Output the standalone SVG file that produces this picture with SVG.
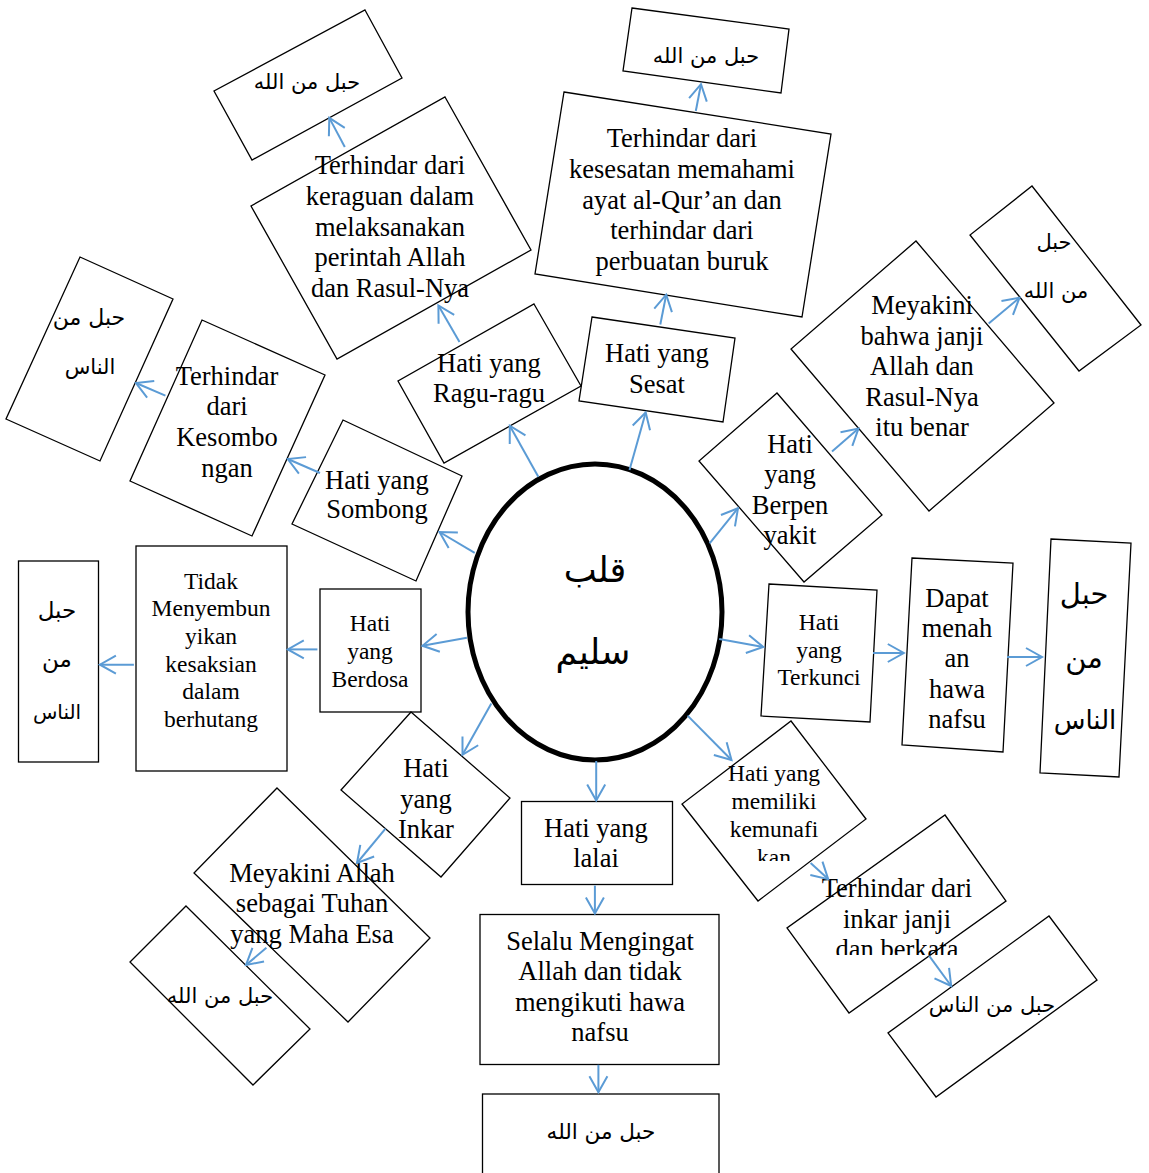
<svg xmlns="http://www.w3.org/2000/svg" width="1149" height="1173" viewBox="0 0 1149 1173">
<style>
.box{fill:none;stroke:#000;stroke-width:1.3}
.t{font-family:"Liberation Serif","Times New Roman",serif;font-size:26.5px;fill:#000;text-anchor:middle}
.s{font-size:23.5px}
.ar{font-family:"DejaVu Sans","Noto Sans",sans-serif;fill:#000;text-anchor:middle;direction:rtl;unicode-bidi:embed}
.c line{stroke:#5B9BD5;stroke-width:2;marker-end:url(#ah)}
</style>
<defs>
<marker id="ah" markerUnits="userSpaceOnUse" markerWidth="18" markerHeight="20" viewBox="-17 -10 18 20" refX="0" refY="0" orient="auto" overflow="visible">
<path d="M-16,-9 L0,0 L-16,9" fill="none" stroke="#5B9BD5" stroke-width="2"/>
</marker>
<clipPath id="clipMun"><rect x="600" y="700" width="300" height="161"/></clipPath>
<clipPath id="clipInk"><rect x="700" y="800" width="400" height="155"/></clipPath>
</defs>
<rect width="1149" height="1173" fill="#fff"/>

<g id="center">
<ellipse cx="595" cy="612" rx="127" ry="148" fill="#fff" stroke="#000" stroke-width="5"/>
<text class="ar" x="595" y="582" font-size="35">قلب</text>
<text class="ar" x="593" y="664" font-size="35">سليم</text>
</g>

<g id="n-ragu">
<polygon class="box" points="534,304 581,386 444,463 398,381"/>
<text class="t" x="489" y="372">Hati yang</text>
<text class="t" x="489" y="402">Ragu-ragu</text>
</g>
<g id="n-keraguan">
<polygon class="box" points="445,97 531,250 337,359 251,206"/>
<text class="t" x="390" y="174">Terhindar dari</text>
<text class="t" x="390" y="205">keraguan dalam</text>
<text class="t" x="390" y="236">melaksanakan</text>
<text class="t" x="390" y="266">perintah Allah</text>
<text class="t" x="390" y="297">dan Rasul-Nya</text>
</g>
<g id="n-hablullah-tl">
<polygon class="box" points="365,10 402,78 252,160 214,91"/>
<text class="ar" x="307" y="89" font-size="21">حبل من الله</text>
</g>

<g id="n-sesat">
<polygon class="box" points="592,317 735,338 723,422 579,401"/>
<text class="t" x="657" y="362">Hati yang</text>
<text class="t" x="657" y="393">Sesat</text>
</g>
<g id="n-kesesatan">
<polygon class="box" points="564,92 831,134 802,317 535,274"/>
<text class="t" x="682" y="147">Terhindar dari</text>
<text class="t" x="682" y="178">kesesatan memahami</text>
<text class="t" x="682" y="209">ayat al-Qur’an dan</text>
<text class="t" x="682" y="239">terhindar dari</text>
<text class="t" x="682" y="270">perbuatan buruk</text>
</g>
<g id="n-hablullah-top">
<polygon class="box" points="632,8 789,29 781,93 623,71"/>
<text class="ar" x="706" y="63" font-size="21">حبل من الله</text>
</g>

<g id="n-berpenyakit">
<polygon class="box" points="777,393 882,515 804,582 699,461"/>
<text class="t" x="790" y="453">Hati</text>
<text class="t" x="790" y="483">yang</text>
<text class="t" x="790" y="514">Berpen</text>
<text class="t" x="790" y="544">yakit</text>
</g>
<g id="n-meyakini-janji">
<polygon class="box" points="916,241 1054,403 929,511 791,349"/>
<text class="t" x="922" y="314">Meyakini</text>
<text class="t" x="922" y="345">bahwa janji</text>
<text class="t" x="922" y="375">Allah dan</text>
<text class="t" x="922" y="406">Rasul-Nya</text>
<text class="t" x="922" y="436">itu benar</text>
</g>
<g id="n-hablullah-r">
<polygon class="box" points="1032,186 1141,325 1079,371 970,235"/>
<text class="ar" x="1054" y="249" font-size="21">حبل</text>
<text class="ar" x="1056" y="298" font-size="21">من الله</text>
</g>

<g id="n-sombong">
<polygon class="box" points="343,420 462,476 416,581 292,524"/>
<text class="t" x="377" y="489">Hati yang</text>
<text class="t" x="377" y="518">Sombong</text>
</g>
<g id="n-kesombongan">
<polygon class="box" points="202,320 325,375 252,536 130,481"/>
<text class="t" x="227" y="385">Terhindar</text>
<text class="t" x="227" y="415">dari</text>
<text class="t" x="227" y="446">Kesombo</text>
<text class="t" x="227" y="477">ngan</text>
</g>
<g id="n-hablunnas-l1">
<polygon class="box" points="80,257 173,299 100,461 6,419"/>
<text class="ar" x="89" y="325" font-size="22">حبل من</text>
<text class="ar" x="90" y="374" font-size="21">الناس</text>
</g>

<g id="n-berdosa">
<rect class="box" x="320" y="589" width="101" height="123"/>
<text class="t s" x="370" y="631">Hati</text>
<text class="t s" x="370" y="659">yang</text>
<text class="t s" x="370" y="687">Berdosa</text>
</g>
<g id="n-tidak">
<rect class="box" x="136" y="546" width="151" height="225"/>
<text class="t s" x="211" y="589">Tidak</text>
<text class="t s" x="211" y="616">Menyembun</text>
<text class="t s" x="211" y="644">yikan</text>
<text class="t s" x="211" y="672">kesaksian</text>
<text class="t s" x="211" y="699">dalam</text>
<text class="t s" x="211" y="727">berhutang</text>
</g>
<g id="n-hablunnas-l2">
<rect class="box" x="18.5" y="561" width="80" height="201"/>
<text class="ar" x="57" y="618" font-size="23">حبل</text>
<text class="ar" x="57" y="667" font-size="23">من</text>
<text class="ar" x="57" y="719" font-size="20">الناس</text>
</g>

<g id="n-inkar">
<polygon class="box" points="411,712 510,798 441,877 341,790"/>
<text class="t" x="426" y="777">Hati</text>
<text class="t" x="426" y="808">yang</text>
<text class="t" x="426" y="838">Inkar</text>
</g>
<g id="n-meyakini-allah">
<polygon class="box" points="277,788 430,938 348,1022 194,873"/>
<text class="t" x="312" y="882">Meyakini Allah</text>
<text class="t" x="312" y="912">sebagai Tuhan</text>
<text class="t" x="312" y="943">yang Maha Esa</text>
</g>
<g id="n-hablullah-bl">
<polygon class="box" points="186,906 310,1029 253,1085 130,962"/>
<text class="ar" x="220" y="1003" font-size="21">حبل من الله</text>
</g>

<g id="n-terkunci">
<polygon class="box" points="769,584 877,590 870,722 761,716"/>
<text class="t s" x="819" y="630">Hati</text>
<text class="t s" x="819" y="658">yang</text>
<text class="t s" x="819" y="685">Terkunci</text>
</g>
<g id="n-dapat">
<polygon class="box" points="912,558 1013,563 1003,752 902,745"/>
<text class="t" x="957" y="607">Dapat</text>
<text class="t" x="957" y="637">menah</text>
<text class="t" x="957" y="667">an</text>
<text class="t" x="957" y="698">hawa</text>
<text class="t" x="957" y="728">nafsu</text>
</g>
<g id="n-hablunnas-r">
<polygon class="box" points="1051,539 1131,543 1119,777 1040,773"/>
<text class="ar" x="1084" y="604" font-size="29">حبل</text>
<text class="ar" x="1084" y="668" font-size="29">من</text>
<text class="ar" x="1085" y="729" font-size="26">الناس</text>
</g>

<g id="n-lalai">
<rect class="box" x="521.5" y="801.5" width="151" height="83"/>
<text class="t" x="596" y="837">Hati yang</text>
<text class="t" x="596" y="867">lalai</text>
</g>
<g id="n-selalu">
<rect class="box" x="480" y="914.5" width="239" height="150"/>
<text class="t" x="600" y="950">Selalu Mengingat</text>
<text class="t" x="600" y="980">Allah dan tidak</text>
<text class="t" x="600" y="1011">mengikuti hawa</text>
<text class="t" x="600" y="1041">nafsu</text>
</g>
<g id="n-hablullah-b">
<rect class="box" x="482.5" y="1094" width="236.5" height="90"/>
<text class="ar" x="601" y="1139" font-size="21.5">حبل من الله</text>
</g>

<g id="n-munafik">
<polygon class="box" points="791,721 866,819 758,901 682,804"/>
<g clip-path="url(#clipMun)">
<text class="t s" x="774" y="781">Hati yang</text>
<text class="t s" x="774" y="809">memiliki</text>
<text class="t s" x="774" y="837">kemunafi</text>
<text class="t s" x="774" y="865">kan</text>
</g>
</g>
<g id="n-inkar-janji">
<polygon class="box" points="945,815 1006,901 849,1013 787,928"/>
<g clip-path="url(#clipInk)">
<text class="t" x="897" y="897">Terhindar dari</text>
<text class="t" x="897" y="928">inkar janji</text>
<text class="t" x="897" y="958">dan berkata</text>
</g>
</g>
<g id="n-hablunnas-br">
<polygon class="box" points="1049,916 1097,980 936,1097 888,1033"/>
<text class="ar" x="992" y="1012" font-size="21">حبل من الناس</text>
</g>

<g id="connectors" class="c">
<line x1="538.3" y1="476.8" x2="509.8" y2="425.7"/>
<line x1="459.5" y1="342" x2="438.4" y2="305.4"/>
<line x1="344.8" y1="147" x2="329.3" y2="117.9"/>
<line x1="629.5" y1="470" x2="645.7" y2="412.5"/>
<line x1="660.3" y1="324.5" x2="666.2" y2="294.7"/>
<line x1="695.8" y1="111" x2="701" y2="84.2"/>
<line x1="709.6" y1="543.4" x2="738" y2="508.2"/>
<line x1="832" y1="451.6" x2="858.5" y2="428.6"/>
<line x1="988.7" y1="323.4" x2="1019.5" y2="297.7"/>
<line x1="474.7" y1="552.9" x2="439.5" y2="532"/>
<line x1="320" y1="473" x2="287.8" y2="459"/>
<line x1="165.4" y1="395.7" x2="136" y2="383"/>
<line x1="466.9" y1="637.7" x2="422.5" y2="645.8"/>
<line x1="317.4" y1="649.4" x2="287.8" y2="649.4"/>
<line x1="133.9" y1="664.7" x2="99.9" y2="664.7"/>
<line x1="491.3" y1="703.5" x2="462.5" y2="754.8"/>
<line x1="385.5" y1="828.7" x2="357" y2="863"/>
<line x1="266.4" y1="947.8" x2="246" y2="965"/>
<line x1="719.2" y1="638.9" x2="763.2" y2="647"/>
<line x1="873" y1="653" x2="903.8" y2="653"/>
<line x1="1007" y1="657" x2="1042" y2="657"/>
<line x1="596.2" y1="761" x2="596.2" y2="800.4"/>
<line x1="594.9" y1="885.6" x2="594.9" y2="913.4"/>
<line x1="598.4" y1="1064.8" x2="598.4" y2="1092.3"/>
<line x1="687.6" y1="715.6" x2="731.5" y2="760"/>
<line x1="810.6" y1="863" x2="828.2" y2="879.1"/>
<line x1="929.2" y1="955.8" x2="951.2" y2="986"/>
</g>
</svg>
